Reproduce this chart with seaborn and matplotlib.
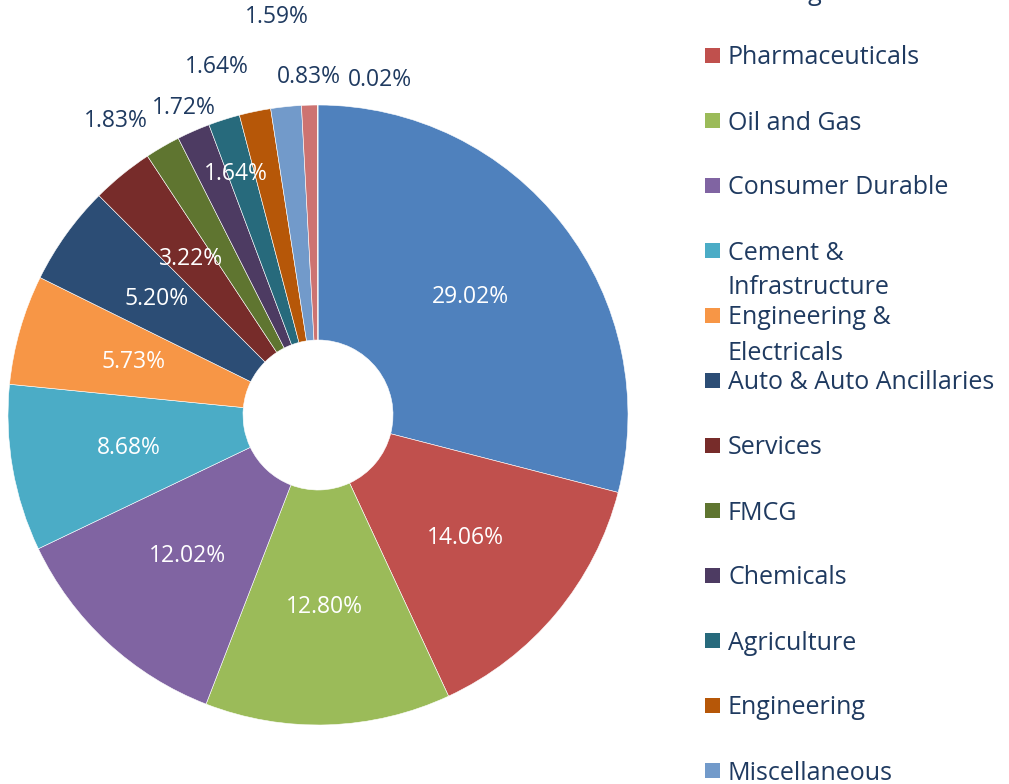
import matplotlib
matplotlib.use("Agg")
import matplotlib.pyplot as plt
import seaborn as sns
import numpy as np
from matplotlib.patches import Rectangle

sns.set_theme(style="white")
plt.rcParams['font.family'] = ['Open Sans', 'DejaVu Sans']

sectors = ["Banking & Finance", "Pharmaceuticals", "Oil and Gas", "Consumer Durable",
           "Cement &\nInfrastructure", "Engineering &\nElectricals", "Auto & Auto Ancillaries",
           "Services", "FMCG", "Chemicals", "Agriculture", "Engineering", "Miscellaneous",
           "Others", "Cash"]
shares = [29.02, 14.06, 12.80, 12.02, 8.68, 5.73, 5.20, 3.22, 1.83, 1.72, 1.64, 1.64, 1.59, 0.83, 0.02]
colors = ["#4F81BD", "#C0504D", "#9BBB59", "#8064A2", "#4BACC6", "#F79646",
          "#2C4D75", "#772C2A", "#5F7530", "#4D3B62", "#276A7C", "#B65708",
          "#729ACA", "#CD7371", "#AFC97A"]
label_dist = [0.62, 0.62, 0.62, 0.62, 0.62, 0.62, 0.64, 0.65, 1.15, 1.08, 1.17, 0.82, 1.29, 1.09, 1.10]
label_shift = [0, 0, 0, 0, 0, 0, 0, 0, 4.5, 0, -1.5, 7.0, 0, 0, -10.5]
label_inside = [True] * 8 + [False, False, False, True, False, False, False]

text_color = "#1F3A60"

W, H = 1009, 784
fig = plt.figure(figsize=(W / 100, H / 100), dpi=100)
R = 310
cx, cy = 318, 415
ax = fig.add_axes([(cx - R) / W, (H - cy - R) / H, 2 * R / W, 2 * R / H])
ax.set_axis_off()

wedges, _ = ax.pie(shares, colors=colors, startangle=90, counterclock=False, radius=1,
                   wedgeprops=dict(width=1 - 75 / R, edgecolor="white", linewidth=0.4),
                   frame=False)
ax.set_xlim(-1, 1)
ax.set_ylim(-1, 1)
ax.set_aspect("auto")

for w, v, d, s, inside in zip(wedges, shares, label_dist, label_shift, label_inside):
    ang = np.deg2rad((w.theta1 + w.theta2) / 2 + s)
    ax.text(d * np.cos(ang), d * np.sin(ang), f"{v:.2f}%", ha="center", va="center",
            fontsize=16.5, color="white" if inside else text_color, clip_on=False)

# legend (manual, clipped at figure edges like the reference)
y0 = -10
step = 65
line_h = 35
for i, (name, c) in enumerate(zip(sectors, colors)):
    y = y0 + i * step
    if y > H + 40:
        continue
    fig.patches.append(Rectangle((705 / W, 1 - (y + 8) / H), 15 / W, 15 / H,
                                 transform=fig.transFigure, facecolor=c, edgecolor="none"))
    for k, line in enumerate(name.split("\n")):
        fig.text(728 / W, 1 - (y + k * line_h) / H, line, ha="left", va="center_baseline",
                 fontsize=18, color=text_color)

fig.savefig("out.png", dpi=100)
